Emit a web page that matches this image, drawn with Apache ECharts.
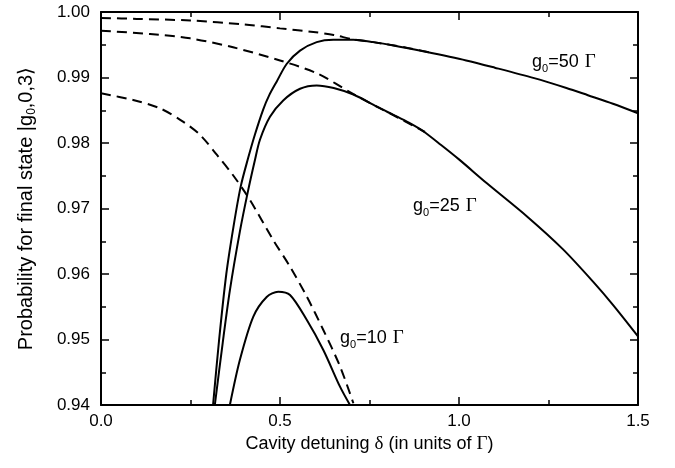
<!DOCTYPE html>
<html>
<head>
<meta charset="utf-8">
<script src="https://cdn.jsdelivr.net/npm/echarts@6/dist/echarts.min.js"></script>
<style>
html,body{margin:0;padding:0;background:#fff;}
#chart{width:675px;height:468px;}
</style>
</head>
<body>
<div id="chart"></div>
<script>
// ---- data ----
const solid50Delta = [0.313,0.33,0.35,0.37,0.39,0.411,0.43,0.453,0.47,0.491,0.519,0.556,0.6025,0.649,0.705,0.761,0.817,0.9,1.02,1.1,1.21,1.3,1.36,1.43,1.5];
const solid50Prob  = [0.940,0.950,0.960,0.9672,0.9733,0.9777,0.9813,0.9851,0.9873,0.9894,0.9921,0.9941,0.9954,0.99576,0.99576,0.9954,0.9949,0.9940,0.9926,0.9915,0.9899,0.9884,0.9873,0.9860,0.98455];

const solid25Delta = [0.318,0.34,0.36,0.388,0.41,0.43,0.444,0.472,0.509,0.556,0.6025,0.65,0.705,0.779,0.817,0.86,0.9,0.95,1.0,1.077,1.19,1.29,1.375,1.43,1.5];
const solid25Prob  = [0.940,0.9495,0.9575,0.9665,0.9725,0.9774,0.9805,0.9840,0.9865,0.98828,0.98879,0.9884,0.9874,0.98531,0.98429,0.9831,0.9818,0.9797,0.9775,0.97389,0.96879,0.9638,0.9588,0.9553,0.95049];

const solid10Delta = [0.36,0.388,0.4255,0.4628,0.495,0.528,0.5746,0.621,0.6676,0.6955];
const solid10Prob  = [0.940,0.9469,0.9535,0.9565,0.9573,0.9568,0.9530,0.9484,0.9428,0.940];

const dashed50Delta = [0,0.1,0.25,0.4,0.5,0.6,0.65,0.705,0.76,0.85,0.92];
const dashed50Prob  = [0.9991,0.99895,0.9987,0.9981,0.9975,0.9969,0.9965,0.9958,0.9954,0.9946,0.9938];

const dashed25Delta = [0,0.137,0.249,0.369,0.5,0.603,0.704,0.779,0.816,0.905];
const dashed25Prob  = [0.99715,0.99664,0.99598,0.99461,0.9926,0.99064,0.9875,0.98531,0.98427,0.98168];

const dashed10Delta = [0,0.09,0.165,0.229,0.277,0.324,0.37,0.416,0.481,0.528,0.575,0.621,0.668,0.705];
const dashed10Prob  = [0.98759,0.98656,0.98529,0.98326,0.98122,0.97817,0.9750,0.9713,0.96519,0.96112,0.95653,0.95145,0.94585,0.94026];

const xTicks = [0.0, 0.5, 1.0, 1.5];
const yTicks = [0.94, 0.95, 0.96, 0.97, 0.98, 0.99, 1.00];

const curveLabels = ['50', '25', '10'];

// ---- build ----
function pairs(xs, ys){ return xs.map((x,i)=>[x, ys[i]]); }
const FONT = '"Liberation Sans", Arial, Helvetica, sans-serif';
const SERIF = '"Liberation Serif", "DejaVu Serif", serif';

const chart = echarts.init(document.getElementById('chart'), null, {renderer:'canvas'});

const tickStyle = {show:true, inside:true, length:8, lineStyle:{color:'#000', width:1.5}};
const minorStyle = {show:true, splitNumber:2, length:5, lineStyle:{color:'#000', width:1.5}};
const lineAx = {show:true, onZero:false, lineStyle:{color:'#000', width:2}};

function line(data, dashed){
  return {
    type:'line', data:data, showSymbol:false, symbol:'none',
    smooth:0.3, clip:true, silent:true,
    lineStyle:{color:'#000', width:2, type: dashed ? [10,6] : 'solid'},
    xAxisIndex:0, yAxisIndex:0
  };
}

const rich = {
  a:{fontFamily:FONT, fontSize:18, color:'#000', lineHeight:24, verticalAlign:'middle'},
  s:{fontFamily:FONT, fontSize:11, color:'#000', lineHeight:24, verticalAlign:'bottom'},
  g:{fontFamily:SERIF, fontSize:19, color:'#000', lineHeight:24, verticalAlign:'middle', padding:[0,0,0,1]}
};

function lbl(txt, cx, cy){
  return {
    type:'text', left: cx, top: cy, silent:true,
    style:{ text:'{a|g}{s|0}{a|=' + txt + ' }{g|Γ}', rich: rich, fill:'#000' }
  };
}

const option = {
  backgroundColor:'#fff',
  animation:false,
  grid:{left:101, right:37, top:12, bottom:63, containLabel:false},
  xAxis:[{
    type:'value', min:xTicks[0], max:xTicks[xTicks.length-1], interval:0.5, position:'bottom',
    axisLine:lineAx, axisTick:tickStyle, minorTick:minorStyle, splitLine:{show:false},
    axisLabel:{color:'#000', fontFamily:FONT, fontSize:17, margin:8, formatter:v=>v.toFixed(1)},
    name:'Cavity detuning {g|δ} (in units of {g|Γ})', nameLocation:'middle', nameGap:28,
    nameTextStyle:{color:'#000', fontFamily:FONT, fontSize:18, rich:{g:{fontFamily:SERIF, fontSize:19, color:'#000'}}}
  },{
    type:'value', min:xTicks[0], max:xTicks[xTicks.length-1], interval:0.5, position:'top',
    axisLine:lineAx, axisTick:tickStyle, minorTick:minorStyle, splitLine:{show:false},
    axisLabel:{show:false}
  }],
  yAxis:[{
    type:'value', min:yTicks[0], max:yTicks[yTicks.length-1], interval:0.01, position:'left',
    axisLine:lineAx, axisTick:tickStyle, minorTick:minorStyle, splitLine:{show:false},
    axisLabel:{color:'#000', fontFamily:FONT, fontSize:17, margin:11, formatter:v=>v.toFixed(2)},
    name:'Probability for final state |g{s|0},0,3⟩', nameLocation:'middle', nameGap:63,
    nameTextStyle:{color:'#000', fontFamily:FONT, fontSize:20, lineHeight:24,
      rich:{s:{fontFamily:FONT, fontSize:12, color:'#000', lineHeight:24, verticalAlign:'bottom'}}}
  },{
    type:'value', min:yTicks[0], max:yTicks[yTicks.length-1], interval:0.01, position:'right',
    axisLine:lineAx, axisTick:tickStyle, minorTick:minorStyle, splitLine:{show:false},
    axisLabel:{show:false}
  }],
  series:[
    line(pairs(solid50Delta, solid50Prob), false),
    line(pairs(solid25Delta, solid25Prob), false),
    line(pairs(solid10Delta, solid10Prob), false),
    line(pairs(dashed50Delta, dashed50Prob), true),
    line(pairs(dashed25Delta, dashed25Prob), true),
    line(pairs(dashed10Delta, dashed10Prob), true)
  ],
  graphic:[
    lbl(curveLabels[0], 532, 53),
    lbl(curveLabels[1], 413, 197),
    lbl(curveLabels[2], 340, 329)
  ]
};
chart.setOption(option);
</script>
</body>
</html>
